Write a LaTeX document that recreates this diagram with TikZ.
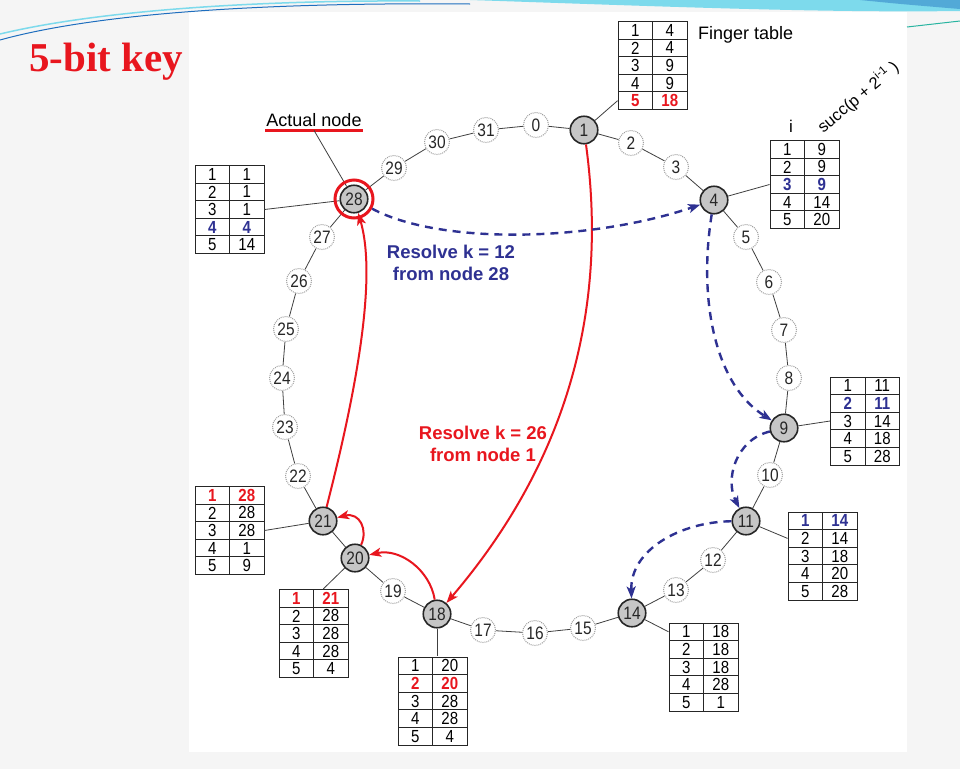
\documentclass[tikz,border=0pt]{standalone}
\usepackage{fontspec}
\setmainfont{Liberation Sans}
\newfontfamily\titlefont{Liberation Serif}
\newfontfamily\numfont[FakeStretch=0.86]{Liberation Sans}
\usepackage{xcolor}
\usetikzlibrary{
    arrows.meta,
    shapes,
    matrix,
    calc
}
\definecolor{chordred}{RGB}{232,22,30}
\definecolor{chordblue}{RGB}{46,49,146}
\definecolor{slidebg}{RGB}{245,245,245}
\definecolor{swoosh}{RGB}{125,218,236}
\definecolor{swooshdark}{RGB}{30,110,190}
\definecolor{swooshteal}{RGB}{40,180,160}
\tikzset{%
    >={Stealth[length=12pt,width=9pt,inset=3pt]},
    % Specifications for style of nodes:
    base/.style = {
        circle, inner sep=0pt, text=black!85,
        font=\numfont\fontsize{18}{21}\selectfont
    },
    slot/.style = {base, draw=gray!75, densely dotted, line width=1pt, fill=white, minimum size=25pt},
    peer/.style = {base, draw=black!85, line width=1.6pt, fill=gray!45, minimum size=27.5pt},
    cell/.style = {
        draw=black!85, line width=0.9pt, anchor=center,
        minimum width=34.5pt, minimum height=17.6pt, inner sep=0pt,
        font=\numfont\fontsize{17.5}{20}\selectfont
    },
    ftable/.style = {matrix of nodes, nodes={cell}, column sep=-0.9pt, row sep=-0.9pt, inner sep=0pt},
    hlred/.style = {text=chordred, font=\numfont\fontsize{17.5}{20}\selectfont\bfseries},
    hlblue/.style = {text=chordblue, font=\numfont\fontsize{17.5}{20}\selectfont\bfseries},
    ringline/.style = {draw=black!75, line width=0.8pt},
    redhop/.style = {->, draw=chordred, line width=2pt},
    bluehop/.style = {->, draw=chordblue, line width=2.4pt, dash pattern=on 8pt off 6pt}
}

\begin{document}
\begin{tikzpicture}[x=1pt, y=-1pt, txt/.style={font=\fontsize{18}{21.6}\selectfont, inner sep=1pt}]
    % slide
    \useasboundingbox (0,0) rectangle (960,769);
    \fill[slidebg] (0,0) rectangle (960,769);
    \fill[white] (189,12) rectangle (907,752);
    \fill[swoosh] (470,0) .. controls (650,6) and (820,13) .. (960,11) -- (960,0) -- cycle;
    \fill[swooshdark!45!swoosh] (860,0) .. controls (900,4) .. (960,9) -- (960,0) -- cycle;
    \draw[swooshdark, line width=1pt] (0,40) .. controls (90,15) and (250,2) .. (470,4);
    \draw[swoosh, line width=1.5pt] (0,34) .. controls (100,10) and (260,0) .. (420,1);
    \draw[swooshteal, line width=1pt] (907,27) -- (960,21);
    \node[anchor=base west, inner sep=0pt, text=chordred, font=\titlefont\bfseries\fontsize{41}{48}\selectfont] (title) at (29,71) {5-bit key};

    % ring
    \foreach \k/\x/\y in {0/536/125, 2/631/143, 3/676/167, 5/746/237, 6/769/282, 7/784/330,
                          8/789/378, 10/770/475, 12/713/560, 13/676/590, 15/583/628, 16/535/633,
                          17/483/630, 19/393/591, 22/298/476, 23/285/427, 24/282/378, 25/286/329,
                          26/299/281, 27/322/237, 29/394/168, 30/437/142, 31/486/130}
        \node[slot] (n\k) at (\x,\y) {\k};
    \foreach \k/\x/\y in {1/584/130, 4/714/200, 9/784/428, 11/746/521, 14/632/613,
                          18/437/614, 20/355/558, 21/323/521, 28/354/199}
        \node[peer] (n\k) at (\x,\y) {\k};
    \foreach \i in {0,...,31} {
        \pgfmathtruncatemacro\j{mod(\i+1,32)}
        \draw[ringline] (n\i) -- (n\j);
    }

    % finger tables
    \matrix (t1) [ftable] at (652.5,65.5) {
        1 & 4 \\ 2 & 4 \\ 3 & 9 \\ 4 & 9 \\ |[hlred]| 5 & |[hlred]| 18 \\
    };
    \matrix (t4) [ftable] at (804.5,184.5) {
        1 & 9 \\ 2 & 9 \\ |[hlblue]| 3 & |[hlblue]| 9 \\ 4 & 14 \\ 5 & 20 \\
    };
    \matrix (t9) [ftable] at (865,421) {
        1 & 11 \\ |[hlblue]| 2 & |[hlblue]| 11 \\ 3 & 14 \\ 4 & 18 \\ 5 & 28 \\
    };
    \matrix (t11) [ftable] at (822.5,556) {
        |[hlblue]| 1 & |[hlblue]| 14 \\ 2 & 14 \\ 3 & 18 \\ 4 & 20 \\ 5 & 28 \\
    };
    \matrix (t14) [ftable] at (703.5,667) {
        1 & 18 \\ 2 & 18 \\ 3 & 18 \\ 4 & 28 \\ 5 & 1 \\
    };
    \matrix (t18) [ftable] at (432.5,701) {
        1 & 20 \\ |[hlred]| 2 & |[hlred]| 20 \\ 3 & 28 \\ 4 & 28 \\ 5 & 4 \\
    };
    \matrix (t20) [ftable] at (313.5,633.5) {
        |[hlred]| 1 & |[hlred]| 21 \\ 2 & 28 \\ 3 & 28 \\ 4 & 28 \\ 5 & 4 \\
    };
    \matrix (t21) [ftable] at (229.5,530.5) {
        |[hlred]| 1 & |[hlred]| 28 \\ 2 & 28 \\ 3 & 28 \\ 4 & 1 \\ 5 & 9 \\
    };
    \matrix (t28) [ftable] at (229.5,209.5) {
        1 & 1 \\ 2 & 1 \\ 3 & 1 \\ |[hlblue]| 4 & |[hlblue]| 4 \\ 5 & 14 \\
    };
    \draw[ringline] (n1) -- (t1-5-1.west);
    \draw[ringline] (n4) -- (t4-3-1.west);
    \draw[ringline] (n9) -- (t9-3-1.west);
    \draw[ringline] (n11) -- (t11-2-1.west);
    \draw[ringline] (n14) -- (t14-1-1.west);
    \draw[ringline] (n18) -- (n18 |- t18.north);
    \draw[ringline] (n20) -- ($(t20.north west)!0.64!(t20.north east)$);
    \draw[ringline] (n21) -- (t21-3-2.east);
    \draw[ringline] (n28) -- (t28-3-2.east);

    % labels
    \node[txt, anchor=west] (ftlabel) at (697,35) {Finger table};
    \node[font=\fontsize{17}{19}\selectfont] (ilabel) at (791,126) {i};
    \node[font=\fontsize{16.5}{19}\selectfont, rotate=40] (succlabel) at (858,97) {succ(p + 2\textsuperscript{i-1} )};
    \node[txt, anchor=base, inner xsep=1pt, inner ysep=4pt] (actual) at (314,126) {Actual node};
    \draw[chordred, line width=2.5pt] (actual.south west) -- (actual.south east);
    \draw[ringline] (actual.south) -- (n28);
    \node[circle, draw=chordred, line width=3pt, minimum size=38pt] (hl) at (n28) {};
    \node[txt, align=center, text=chordblue, font=\fontsize{18.5}{22}\selectfont\bfseries] (res12) at (451,263) {Resolve k = 12\\from node 28};
    \node[txt, align=center, text=chordred, font=\fontsize{18.5}{22}\selectfont\bfseries] (res26) at (483,444) {Resolve k = 26\\from node 1};

    % lookups
    \draw[redhop] (n1) .. controls (610,320) and (560,470) .. (n18);
    \draw[redhop] (n18) .. controls (430,570) and (400,548) .. (n20);
    \draw[redhop] (n20) .. controls (368,530) and (360,512) .. (n21);
    \draw[redhop] (n21) .. controls (354,400) and (378,280) .. (n28);
    \draw[bluehop] (hl) .. controls (440,245) and (590,242) .. (n4);
    \draw[bluehop] (n4) .. controls (698,300) and (715,385) .. (n9);
    \draw[bluehop] (n9) .. controls (735,440) and (725,480) .. (n11);
    \draw[bluehop] (n11) .. controls (680,522) and (630,550) .. (n14);
\end{tikzpicture}
\end{document}
